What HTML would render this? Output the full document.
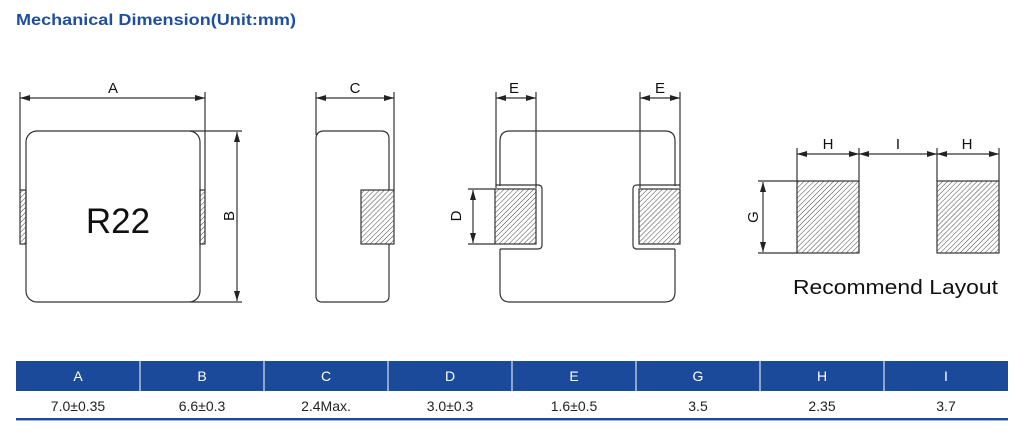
<!DOCTYPE html>
<html><head><meta charset="utf-8"><style>
html,body{margin:0;padding:0;background:#fff;width:1024px;height:434px;overflow:hidden}
</style></head><body>
<svg width="1024" height="434" viewBox="0 0 1024 434" xmlns="http://www.w3.org/2000/svg" font-family="Liberation Sans, sans-serif">
<defs>
<pattern id="h" patternUnits="userSpaceOnUse" width="3.5" height="3.5" patternTransform="rotate(45)">
<rect width="4" height="4" fill="#fff"/><line x1="0" y1="0" x2="0" y2="4" stroke="#444" stroke-width="1"/>
</pattern>
<marker id="a" viewBox="0 0 10 6" refX="10" refY="3" markerWidth="10" markerHeight="6" orient="auto-start-reverse" markerUnits="userSpaceOnUse"><path d="M0,0 L10,3 L0,6 z" fill="#222"/></marker>
</defs>
<text x="16" y="25" font-size="16" font-weight="bold" fill="#1f4e9c" textLength="280" lengthAdjust="spacingAndGlyphs">Mechanical Dimension(Unit:mm)</text>
<g stroke="#333" stroke-width="1.2" fill="none">
<path d="M20,92 V190 M205,92 V190"/>
<line x1="20" y1="98" x2="205" y2="98" marker-start="url(#a)" marker-end="url(#a)"/>
<rect x="20" y="190" width="6" height="54" fill="url(#h)"/>
<rect x="200" y="190" width="5" height="54" fill="url(#h)"/>
<rect x="26" y="131" width="174" height="171" rx="11" fill="none"/>
<path d="M190,131 H242 M190,302 H242"/>
<line x1="237" y1="132" x2="237" y2="301" marker-start="url(#a)" marker-end="url(#a)"/>
<path d="M316,92 V135 M394,92 V190"/>
<line x1="316" y1="98" x2="394" y2="98" marker-start="url(#a)" marker-end="url(#a)"/>
<path d="M316,296 V139 Q316,131 324,131 H381 Q389,131 389,139 V296 Q389,302 383,302 H322 Q316,302 316,296 Z"/>
<rect x="361" y="190" width="33" height="54" fill="url(#h)"/>
<path d="M496,92 V188 M536,92 V188 M640,92 V188 M680,92 V188"/>
<line x1="496" y1="98" x2="536" y2="98" marker-start="url(#a)" marker-end="url(#a)"/>
<line x1="640" y1="98" x2="680" y2="98" marker-start="url(#a)" marker-end="url(#a)"/>
<path d="M500,186 V141 Q500,131 510,131 H665 Q675,131 675,141 V186"/>
<path d="M500,249 V292 Q500,302 510,302 H665 Q675,302 675,292 V249"/>
<path d="M496,185 H538 Q542,185 542,189 V245 Q542,249 538,249 H500"/>
<path d="M680,185 H637 Q633,185 633,189 V245 Q633,249 637,249 H675"/>
<rect x="495" y="189" width="41" height="55" fill="url(#h)"/>
<rect x="639" y="189" width="41" height="55" fill="url(#h)"/>
<path d="M468,189 H495 M468,244 H495"/>
<line x1="473" y1="190" x2="473" y2="243" marker-start="url(#a)" marker-end="url(#a)"/>
<path d="M797,148 V181 M859,148 V181 M937,148 V181 M999,148 V181"/>
<line x1="797" y1="154" x2="859" y2="154" marker-start="url(#a)" marker-end="url(#a)"/>
<line x1="859" y1="154" x2="937" y2="154" marker-start="url(#a)" marker-end="url(#a)"/>
<line x1="937" y1="154" x2="999" y2="154" marker-start="url(#a)" marker-end="url(#a)"/>
<rect x="797" y="181" width="62" height="72" fill="url(#h)"/>
<rect x="937" y="181" width="62" height="72" fill="url(#h)"/>
<path d="M758,181 H797 M758,253 H797"/>
<line x1="763" y1="182" x2="763" y2="252" marker-start="url(#a)" marker-end="url(#a)"/>
</g>
<g fill="#111" font-size="15" text-anchor="middle">
<text x="113" y="93">A</text>
<text x="355" y="93">C</text>
<text x="514" y="93">E</text>
<text x="660" y="93">E</text>
<text x="828" y="149">H</text>
<text x="898" y="149">I</text>
<text x="967" y="149">H</text>
<text transform="translate(234,216) rotate(-90)">B</text>
<text transform="translate(461,216) rotate(-90)">D</text>
<text transform="translate(758,217) rotate(-90)">G</text>
<text x="118" y="233" font-size="35">R22</text>
</g>
<text x="793" y="294" font-size="20" fill="#111" textLength="205" lengthAdjust="spacingAndGlyphs">Recommend Layout</text>
<rect x="16" y="361" width="992" height="30" fill="#1b4a9a"/>
<g stroke="#fff" stroke-width="1">
<path d="M140,361 V391 M264,361 V391 M388,361 V391 M512,361 V391 M636,361 V391 M760,361 V391 M884,361 V391"/>
</g>
<g font-size="14" text-anchor="middle" fill="#fff">
<text x="78" y="381">A</text><text x="202" y="381">B</text><text x="326" y="381">C</text><text x="450" y="381">D</text>
<text x="574" y="381">E</text><text x="698" y="381">G</text><text x="822" y="381">H</text><text x="946" y="381">I</text>
</g>
<g font-size="14" text-anchor="middle" fill="#222">
<text x="78" y="411">7.0±0.35</text><text x="202" y="411">6.6±0.3</text><text x="326" y="411">2.4Max.</text><text x="450" y="411">3.0±0.3</text>
<text x="574" y="411">1.6±0.5</text><text x="698" y="411">3.5</text><text x="822" y="411">2.35</text><text x="946" y="411">3.7</text>
</g>
<rect x="16" y="418" width="992" height="2" fill="#1b4a9a"/>
<rect x="16" y="420" width="992" height="1" fill="#9fb3d6"/>
</svg>
</body></html>
